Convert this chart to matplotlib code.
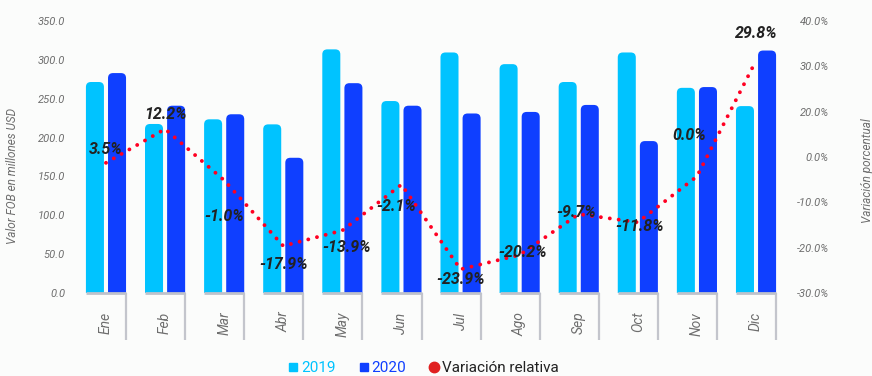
import matplotlib
matplotlib.use('Agg')
import numpy as np
import matplotlib.pyplot as plt
from matplotlib.patches import FancyBboxPatch
from matplotlib.lines import Line2D

plt.rcParams['font.family'] = ['Roboto', 'DejaVu Sans']

# Datos
meses = ['Ene', 'Feb', 'Mar', 'Abr', 'May', 'Jun', 'Jul', 'Ago', 'Sep', 'Oct', 'Nov', 'Dic']
fob_2019 = [271.5, 217.5, 223.5, 217.0, 313.5, 247.0, 309.5, 294.5, 271.5, 309.5, 264.0, 240.5]
fob_2020 = [283.0, 241.0, 230.0, 174.0, 270.0, 241.0, 231.0, 233.0, 242.0, 195.5, 265.0, 312.0]
variacion = [3.5, 12.2, -1.0, -17.9, -13.9, -2.1, -23.9, -20.2, -9.7, -11.8, 0.0, 29.8]
ticks_izq = [0, 50, 100, 150, 200, 250, 300, 350]
ticks_der = ['-30.0%', '-20.0%', '-10.0%', '0.0%', '20.0%', '30.0%', '40.0%']

# desplazamiento de cada etiqueta respecto a su punto (pixeles)
offsets = [(0, 13), (0, 15), (0, -36), (0, -19), (4, -17), (-5, -22),
           (0, -10), (3, 2), (-3, 2), (2, -4), (-8, 41), (0, 27)]

c19 = '#00c3ff'
c20 = '#0f3fff'
rojo = '#ff0022'
gris = '#6e6e6e'
bg = '#fbfcfb'

fig = plt.figure(figsize=(8.72, 3.76), dpi=100, facecolor=bg)
ax = fig.add_axes([72 / 872, 83 / 376, 718 / 872, 272 / 376])
ax.set_facecolor(bg)

x = np.arange(len(meses))
ax.set_xlim(-0.575, 11.575)
ax.set_ylim(0, 350)

b1 = ax.bar(x - 0.187, fob_2019, width=0.305, color=c19)
b2 = ax.bar(x + 0.187, fob_2020, width=0.305, color=c20)

# barras con la parte de arriba redondeada
px_x = ax.bbox.width / (ax.get_xlim()[1] - ax.get_xlim()[0])
px_y = ax.bbox.height / (ax.get_ylim()[1] - ax.get_ylim()[0])
r = 5 / px_x
aspect = px_x / px_y
for bars, col in [(b1, c19), (b2, c20)]:
    for b in bars:
        b.set_visible(False)
        ry = r * aspect
        p = FancyBboxPatch((b.get_x(), -ry), b.get_width(), b.get_height() + ry,
                           boxstyle=f'round,pad=0,rounding_size={r}',
                           mutation_aspect=aspect, facecolor=col, edgecolor='none')
        ax.add_patch(p)

# linea base bajo cada grupo y separadores
ax.hlines(np.zeros(len(x)), x - 0.34, x + 0.34, color='#bfc2cb', lw=2, clip_on=False, zorder=3)
ax.set_xticks(x)
ax.set_xticklabels(meses, rotation=90, style='italic', fontsize=10, color=gris)
ax.set_xticks(x + 0.34, minor=True)
ax.tick_params(axis='x', which='major', length=0, pad=13.5)
ax.tick_params(axis='x', which='minor', length=34, width=1.6, color='#c3c5cc', direction='out')

ax.set_yticks(ticks_izq)
ax.set_yticklabels([f'{t:.1f}' for t in ticks_izq], style='italic', fontsize=8, color=gris)
ax.tick_params(axis='y', length=0, pad=5)
for s in ax.spines.values():
    s.set_visible(False)

ax2 = ax.twinx()
ax2.set_ylim(-30, 40)
ax2.set_yticks(np.linspace(-30, 40, 7))
ax2.set_yticklabels(ticks_der, style='italic', fontsize=8, color=gris, ha='right')
ax2.tick_params(axis='y', length=0, pad=28)
for s in ax2.spines.values():
    s.set_visible(False)

ax2.plot(x, variacion, color=rojo, lw=2.8, linestyle=(0, (0.01, 2.3)),
         dash_capstyle='round', zorder=4)
for xi, v, off in zip(x, variacion, offsets):
    ax2.annotate(f'{v:.1f}%', (xi, v), xytext=off, textcoords='offset pixels',
                 ha='center', va='center', fontsize=11.5, fontweight='bold',
                 style='italic', color='#222222', zorder=5)

fig.text(13 / 872, 1 - 176 / 376, 'Valor FOB en millones USD', rotation=90,
         ha='center', va='center', style='italic', fontsize=8.5, color=gris)
fig.text(867 / 872, 1 - 171 / 376, 'Variación porcentual', rotation=90,
         ha='center', va='center', style='italic', fontsize=8.5, color=gris)

handles = [Line2D([], [], marker='s', color=c19, linestyle='', markersize=6),
           Line2D([], [], marker='s', color=c20, linestyle='', markersize=6),
           Line2D([], [], marker='o', color='#e02020', linestyle='', markersize=7.5)]
fig.legend(handles, ['2019', '2020', 'Variación relativa'], loc='center',
           bbox_to_anchor=(424 / 872, 1 - 368 / 376), ncol=3, frameon=False,
           fontsize=11, handlelength=0.5, handletextpad=0.25, columnspacing=1.6,
           labelcolor=[c19, c20, '#222222'])

fig.savefig('out.png', dpi=100, facecolor=bg)
